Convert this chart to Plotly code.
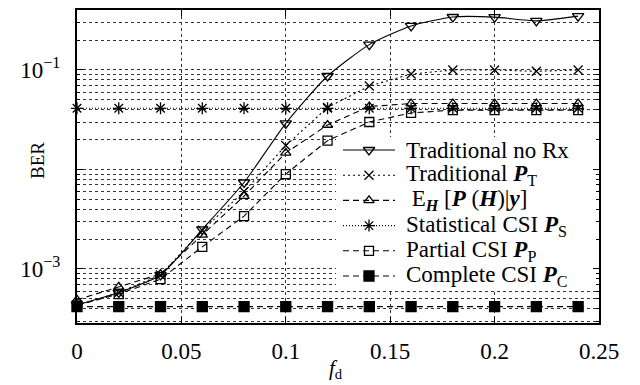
import plotly.graph_objects as go

# ---------------- data ----------------
fd = [0, 0.02, 0.04, 0.06, 0.08, 0.10, 0.12, 0.14, 0.16, 0.18, 0.20, 0.22, 0.24]

ber_no_rx = [4.35e-4, 5.8e-4, 8.7e-4, 2.5e-3, 7.4e-3, 0.0291, 0.087, 0.18, 0.277, 0.341, 0.34, 0.312, 0.348]
ber_trad_pt = [4.3e-4, 5.8e-4, 8.7e-4, 2.45e-3, 6.0e-3, 0.0174, 0.042, 0.069, 0.091, 0.1, 0.1, 0.097, 0.1]
ber_eh = [4.9e-4, 6.6e-4, 8.9e-4, 2.2e-3, 5.4e-3, 0.0147, 0.028, 0.043, 0.046, 0.046, 0.046, 0.046, 0.046]
ber_stat = [0.0412, 0.0412, 0.0412, 0.0412, 0.0412, 0.0412, 0.0412, 0.0412, 0.0412, 0.0412, 0.0412, 0.0412, 0.0412]
ber_partial = [4.3e-4, 5.6e-4, 7.9e-4, 1.67e-3, 3.4e-3, 9.0e-3, 0.0195, 0.030, 0.037, 0.0395, 0.0395, 0.0395, 0.0395]
ber_complete = [4.18e-4, 4.18e-4, 4.18e-4, 4.18e-4, 4.18e-4, 4.18e-4, 4.18e-4, 4.18e-4, 4.18e-4, 4.18e-4, 4.18e-4, 4.18e-4, 4.18e-4]

names = [
    "Traditional no Rx",
    "Traditional <b><i>P</i></b><sub>T</sub>",
    " E<sub><b><i>H</i></b></sub> [<b><i>P</i></b> (<b><i>H</i></b>)|<b><i>y</i></b>]",
    "Statistical CSI <b><i>P</i></b><sub>S</sub>",
    "Partial CSI <b><i>P</i></b><sub>P</sub>",
    "Complete CSI <b><i>P</i></b><sub>C</sub>",
]

x_tickvals = [0, 0.05, 0.1, 0.15, 0.2, 0.25]
x_ticktext = ["0", "0.05", "0.1", "0.15", "0.2", "0.25"]
y_tickvals = [1e-3, 1e-2, 1e-1]
y_ticktext = ["10<sup>−3</sup>", " ", "10<sup>−1</sup>"]
y_minor = [m * 10 ** e for e in (-4, -3, -2, -1) for m in range(2, 10) if 2.8e-4 < m * 10 ** e < 0.41]

# ---------------- layout geometry (page pixels; the page body adds an 8px offset) ----------------
OFF = 8
PAGE_W, PAGE_H = 640, 385
W, H = PAGE_W - OFF, PAGE_H - OFF
PL, PR, PT, PB = 77, 599, 10, 323          # plot area edges in page pixels
L, R, T, B = PL - OFF, W - (PR - OFF), PT - OFF, H - (PB - OFF)
FONT = "Liberation Serif"


def paper_x(px):
    return (px - PL) / (PR - PL)


def paper_y(py):
    return (PB - py) / (PB - PT)


styles = [
    # dash, symbol, size, spline
    ("solid", "triangle-down-open", 10, True),
    ("2px,3px", "x-thin-open", 9, False),
    ("6px,4px", "triangle-up-open", 9, False),
    ("1px,2px", "asterisk-open", 10, False),
    ("6px,4px", "square-open", 9, False),
    ("6px,4px", "square", 10, False),
]
series = [ber_no_rx, ber_trad_pt, ber_eh, ber_stat, ber_partial, ber_complete]

fig = go.Figure()
for ys, (dash, sym, sz, spline), nm in zip(series, styles, names):
    fig.add_trace(go.Scatter(
        x=fd, y=ys, name=nm, mode="lines+markers", showlegend=False,
        line=dict(color="black", width=1.1, dash=dash,
                  shape="spline" if spline else "linear", smoothing=0.6),
        marker=dict(symbol=sym, size=sz, color="black", line=dict(color="black", width=1.3)),
        cliponaxis=False,
    ))

# ---------------- hand-made legend (overlay axes in page pixels) ----------------
leg_left, leg_right, leg_top, leg_bottom = 336, 598, 137, 290
row_y0, row_step = 150, 25.2
samp_x0, samp_x1, text_x = 343, 395, 404

fig.add_trace(go.Scatter(
    x=[leg_left, leg_right, leg_right, leg_left, leg_left],
    y=[leg_top, leg_top, leg_bottom, leg_bottom, leg_top],
    xaxis="x2", yaxis="y2", mode="lines", fill="toself",
    fillcolor="white", line=dict(width=0), hoverinfo="skip", showlegend=False,
))
annotations = []
for i, ((dash, sym, sz, _), nm) in enumerate(zip(styles, names)):
    yy = row_y0 + i * row_step
    fig.add_trace(go.Scatter(
        x=[samp_x0, (samp_x0 + samp_x1) / 2, samp_x1], y=[yy, yy, yy],
        xaxis="x2", yaxis="y2", mode="lines+markers", showlegend=False, hoverinfo="skip",
        line=dict(color="black", width=1.1, dash=dash),
        marker=dict(symbol=sym, size=sz, color="black", opacity=[0, 1, 0],
                    line=dict(color="black", width=1.3)),
    ))
    annotations.append(dict(
        x=paper_x(text_x), y=paper_y(yy),
        xref="paper", yref="paper", xanchor="left", yanchor="middle",
        height=24, valign="middle",
        text=nm, showarrow=False, font=dict(family=FONT, size=23, color="black"),
    ))

# axis titles
annotations.append(dict(
    x=paper_x(37), y=paper_y(161), xref="paper", yref="paper",
    text="BER", textangle=-90, showarrow=False, xanchor="center", yanchor="middle",
    font=dict(family=FONT, size=19, color="black"),
))
annotations.append(dict(
    x=paper_x(336), y=paper_y(369), xref="paper", yref="paper",
    text="<i>f</i><sub>d</sub>", showarrow=False, xanchor="center", yanchor="middle",
    font=dict(family=FONT, size=21, color="black"),
))

grid = dict(gridcolor="#333", gridwidth=0.8, griddash="dot")

fig.update_layout(
    width=W, height=H,
    margin=dict(l=L, r=R, t=T, b=B),
    plot_bgcolor="white", paper_bgcolor="white",
    font=dict(family=FONT, size=23, color="black"),
    showlegend=False,
    annotations=annotations,
    xaxis=dict(
        range=[0, 0.25], tickvals=x_tickvals, ticktext=x_ticktext,
        showline=True, linecolor="black", linewidth=2, mirror="allticks",
        ticks="inside", ticklen=6, tickcolor="black", ticklabelstandoff=6,
        showgrid=True, zeroline=False, automargin=False,
        tickfont=dict(family=FONT, size=23),
        **grid,
    ),
    yaxis=dict(
        type="log", range=[-3.543, -0.397],
        tickvals=y_tickvals, ticktext=y_ticktext,
        showline=True, linecolor="black", linewidth=2, mirror="allticks",
        ticks="inside", ticklen=6, tickcolor="black", ticklabelstandoff=10,
        showgrid=True, zeroline=False, automargin=False,
        tickfont=dict(family=FONT, size=23),
        minor=dict(tickvals=y_minor, ticks="inside", ticklen=3, tickcolor="black", showgrid=True,
                   gridcolor="#333", gridwidth=0.8, griddash="dot"),
        **grid,
    ),
    xaxis2=dict(overlaying="x", range=[PL, PR], visible=False, fixedrange=True),
    yaxis2=dict(overlaying="y", range=[PB, PT], visible=False, fixedrange=True),
)

fig.write_html("out.html")
